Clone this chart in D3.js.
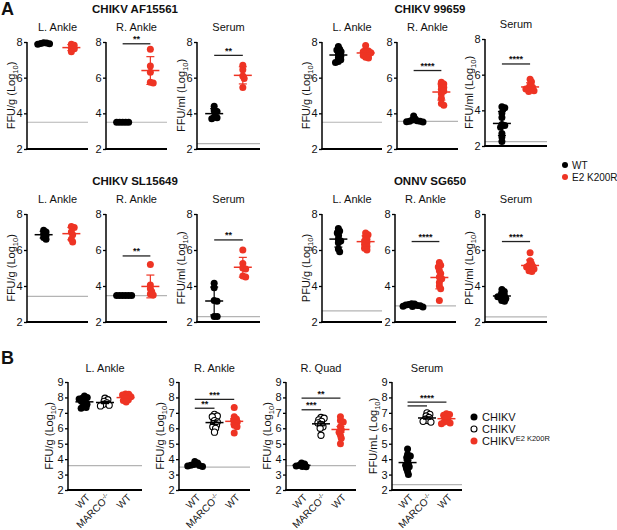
<!DOCTYPE html>
<html><head><meta charset="utf-8">
<script src="https://cdn.jsdelivr.net/npm/d3@7"></script>
<style>body{margin:0;background:#fff}svg{display:block}text{font-family:"Liberation Sans",Arial,Helvetica,sans-serif;fill:#111}</style>
</head><body><svg id="c" width="617" height="530"></svg>
<script>
// ---------------- DATA ----------------
const groupsA = ["WT", "E2 K200R"];
const groupsB = ["WT", "MARCO", "WT-K200R"];
const xTickLabelsB = ["WT", "MARCO", "WT"];
const ticksA = [2, 4, 6, 8];
const ticksB = [2, 3, 4, 5, 6, 7, 8, 9];
const legendA = ["WT", "E2 K200R"];
const legendB = ["CHIKV", "CHIKV", "CHIKV"];

// CHIKV AF15561
const af_LAnkle_WT = [7.96, 7.94, 7.92, 7.9, 7.88];
const af_LAnkle_K200R = [7.88, 7.82, 7.65, 7.62, 7.46];
const af_RAnkle_WT = [3.5, 3.5, 3.5, 3.5, 3.5];
const af_RAnkle_K200R = [7.6, 6.65, 6.3, 5.75, 5.7];
const af_Serum_WT = [4.4, 4.15, 4.1, 3.8, 3.75, 3.7];
const af_Serum_K200R = [6.7, 6.45, 6.1, 5.95, 5.45];
// CHIKV 99659
const c99_LAnkle_WT = [7.75, 7.6, 7.55, 7.45, 7.3, 7.2, 7.1, 7.0, 6.9, 6.85];
const c99_LAnkle_K200R = [7.8, 7.55, 7.5, 7.45, 7.4, 7.35, 7.3, 7.25, 7.15, 7.1];
const c99_RAnkle_WT = [3.85, 3.7, 3.62, 3.58, 3.56, 3.55, 3.53, 3.52];
const c99_RAnkle_K200R = [5.75, 5.65, 5.55, 5.45, 5.35, 5.25, 5.1, 4.85, 4.55, 4.45];
const c99_Serum_WT = [4.2, 4.15, 3.85, 3.6, 3.2, 3.15, 3.05, 2.7, 2.5, 2.25];
const c99_Serum_K200R = [5.75, 5.6, 5.4, 5.3, 5.25, 5.2, 5.15, 5.1, 5.05];
// CHIKV SL15649
const sl_LAnkle_WT = [7.1, 7.0, 6.9, 6.8, 6.7, 6.6];
const sl_LAnkle_K200R = [7.3, 7.25, 7.0, 6.85, 6.6, 6.45];
const sl_RAnkle_WT = [3.47, 3.47, 3.47, 3.47, 3.47, 3.47];
const sl_RAnkle_K200R = [5.2, 4.05, 3.85, 3.7, 3.55, 3.5];
const sl_Serum_WT = [4.15, 3.9, 3.2, 3.15, 2.3, 2.3];
const sl_Serum_K200R = [6.0, 5.25, 5.0, 4.95, 4.55, 4.5];
// ONNV SG650
const on_LAnkle_WT = [7.2, 7.05, 6.95, 6.8, 6.6, 6.5, 6.4, 6.05, 5.9];
const on_LAnkle_K200R = [6.95, 6.85, 6.75, 6.6, 6.5, 6.4, 6.3, 6.2, 6.1, 6.0];
const on_RAnkle_WT = [3.02, 3.0, 2.97, 2.95, 2.92, 2.9, 2.88, 2.86, 2.83];
const on_RAnkle_K200R = [5.3, 5.15, 5.05, 4.85, 4.7, 4.5, 4.4, 4.2, 4.0, 3.85, 3.2];
const on_Serum_WT = [3.8, 3.7, 3.6, 3.5, 3.45, 3.4, 3.35, 3.3, 3.2, 3.15];
const on_Serum_K200R = [5.85, 5.4, 5.25, 5.15, 5.1, 5.05, 5.0, 4.95, 4.85, 4.8];
// Panel B
const b_LAnkle_WT = [8.1, 8.0, 7.95, 7.9, 7.85, 7.75, 7.65, 7.55, 7.45, 7.35, 7.3];
const b_LAnkle_MARCO = [7.95, 7.85, 7.75, 7.65, 7.55, 7.5, 7.45];
const b_LAnkle_K200R = [8.22, 8.2, 8.15, 8.05, 7.95, 7.85, 7.8, 7.7];
const b_RAnkle_WT = [3.85, 3.75, 3.65, 3.6, 3.58, 3.55, 3.53];
const b_RAnkle_MARCO = [6.9, 6.8, 6.75, 6.5, 6.4, 6.3, 6.2, 6.1, 6.0, 5.75];
const b_RAnkle_K200R = [7.35, 6.75, 6.6, 6.5, 6.4, 6.2, 6.1, 5.7];
const b_RQuad_WT = [3.75, 3.68, 3.6, 3.55, 3.52, 3.5];
const b_RQuad_MARCO = [6.7, 6.65, 6.55, 6.45, 6.35, 6.25, 6.1, 6.0, 5.55];
const b_RQuad_K200R = [6.75, 6.5, 6.4, 6.1, 5.9, 5.75, 5.55, 5.35, 5.0];
const b_Serum_WT = [4.65, 4.3, 4.2, 4.1, 3.9, 3.7, 3.6, 3.5, 3.4, 3.2, 3.0];
const b_Serum_MARCO = [7.0, 6.9, 6.8, 6.7, 6.6, 6.5, 6.45, 6.4];
const b_Serum_K200R = [6.95, 6.9, 6.85, 6.75, 6.6, 6.5, 6.4, 6.35, 6.3];

// limits of detection
const lodAF = [3.5, 3.5, 2.3];
const lod99 = [3.5, 3.55, 2.25];
const lodSL = [3.42, 3.47, 2.3];
const lodON = [2.62, 2.9, 2.28];
const lodB = [3.58, 3.48, 3.58, 2.35];

// significance brackets: [fromGroup, toGroup, level, label]
const sigAF = [[], [[0, 1, 7.9, "**"]], [[0, 1, 7.25, "**"]]];
const sig99 = [[], [[0, 1, 6.4, "****"]], [[0, 1, 6.6, "****"]]];
const sigSL = [[], [[0, 1, 5.67, "**"]], [[0, 1, 6.56, "**"]]];
const sigON = [[], [[0, 1, 6.47, "****"]], [[0, 1, 6.47, "****"]]];
const sigB = [[], [[0, 1, 7.3, "**"], [0, 2, 7.88, "***"]], [[0, 1, 7.2, "***"], [0, 2, 7.95, "**"]], [[0, 1, 7.45, ""], [0, 2, 7.7, "****"]]];

// ---------------- LAYOUT / STYLE ----------------
const RED = "#ee3424";
const svg = d3.select("#c");

function swarm(values, cx, y, minD) {
  const pts = values.map(v => ({ v, y: y(v) })).sort((a, b) => a.y - b.y);
  const placed = [];
  for (const p of pts) {
    const c = [0];
    for (const q of placed) {
      const dy = p.y - q.y;
      if (Math.abs(dy) < minD) { const dx = Math.sqrt(minD * minD - dy * dy); c.push(q.dx + dx, q.dx - dx); }
    }
    c.sort((a, b) => Math.abs(a) - Math.abs(b));
    for (const d of c) {
      if (placed.every(q => (d - q.dx) ** 2 + (p.y - q.y) ** 2 >= minD * minD - 1e-6)) { p.dx = d; break; }
    }
    placed.push(p);
  }
  return placed.map(p => ({ v: p.v, x: cx + p.dx, y: p.y }));
}

function ylabel(g, x, y, pre) {
  const t = g.append("text").attr("transform", `translate(${x},${y}) rotate(-90)`)
    .attr("text-anchor", "middle").style("font-size", "11px");
  t.append("tspan").text(pre + " (Log");
  t.append("tspan").text("10").style("font-size", "7.5px").attr("dy", "3");
  t.append("tspan").text(")").attr("dy", "-3");
}

function panel(cfg) {
  const g = svg.append("g");
  const [x0, x1] = cfg.x, [yb, yt] = cfg.y;
  const y = d3.scaleLinear().domain(cfg.dom).range([yb, yt]);
  const x = d3.scalePoint().domain(cfg.groups).range([x0, x1]).padding(cfg.pad);
  // LOD
  g.append("line").attr("x1", x0).attr("x2", x1).attr("y1", y(cfg.lod)).attr("y2", y(cfg.lod))
    .attr("stroke", "#b4b4b4").attr("stroke-width", 1.2);
  // points
  cfg.data.forEach((vals, i) => {
    const gr = cfg.groups[i];
    const style = cfg.styles[i];
    const pts = swarm(vals, x(gr), y, cfg.minD);
    g.selectAll(null).data(pts).enter().append("circle")
      .attr("cx", d => d.x).attr("cy", d => d.y).attr("r", style === "open" ? 3.1 : 3.5)
      .attr("fill", style === "red" ? RED : style === "open" ? "#fff" : "#000")
      .attr("stroke", style === "red" ? RED : "#000").attr("stroke-width", style === "open" ? 1.1 : 0);
  });
  // mean and error bars
  cfg.data.forEach((vals, i) => {
    const cx = x(cfg.groups[i]);
    const col = cfg.styles[i] === "red" ? RED : "#000";
    const m = d3.mean(vals);
    let e = d3.deviation(vals) || 0;
    if (cfg.sem) e = e / Math.sqrt(vals.length);
    const eg = g.append("g").attr("stroke", col).attr("fill", "none");
    eg.append("line").attr("x1", cx - 9).attr("x2", cx + 9).attr("y1", y(m)).attr("y2", y(m)).attr("stroke-width", 1.5);
    if (e > 0.02) {
      eg.append("line").attr("x1", cx).attr("x2", cx).attr("y1", y(m - e)).attr("y2", y(m + e)).attr("stroke-width", 1.2);
      [m - e, m + e].forEach(v => eg.append("line").attr("x1", cx - 4).attr("x2", cx + 4).attr("y1", y(v)).attr("y2", y(v)).attr("stroke-width", 1.2));
    }
  });
  // significance
  cfg.sig.forEach(([a, b, lv, lab]) => {
    const xa = x(cfg.groups[a]), xb = x(cfg.groups[b]);
    g.append("line").attr("x1", xa).attr("x2", xb).attr("y1", y(lv)).attr("y2", y(lv)).attr("stroke", "#222").attr("stroke-width", 1.3);
    if (lab) g.append("text").attr("x", (xa + xb) / 2).attr("y", y(lv) - 1.5).attr("text-anchor", "middle")
      .style("font-size", "9px").style("font-weight", "bold").text(lab);
  });
  // axes
  const ya = g.append("g").attr("transform", `translate(${x0},0)`)
    .call(d3.axisLeft(y).tickValues(cfg.ticks).tickSize(3).tickPadding(1.5).tickFormat(d3.format("d")));
  ya.attr("font-family", null).attr("font-size", null);
  ya.select(".domain").attr("stroke", "#000").attr("stroke-width", 1.5).attr("d", `M0,${yt}V${yb}`);
  ya.selectAll(".tick line").attr("stroke", "#000").attr("stroke-width", 1.3);
  ya.selectAll(".tick text").style("font-size", "11px").attr("fill", "#111");
  g.append("line").attr("x1", x0 - 0.75).attr("x2", x1).attr("y1", yb).attr("y2", yb).attr("stroke", "#000").attr("stroke-width", 2);
  if (cfg.xlabels) {
    cfg.groups.forEach((gr, i) => {
      const t = g.append("text").attr("transform", `translate(${x(gr) + 3},${yb + 5}) rotate(-45)`)
        .attr("text-anchor", "end").attr("dy", "0.45em").style("font-size", "10px");
      t.append("tspan").text(cfg.xlabels[i]);
      if (cfg.xlabels[i] === "MARCO") t.append("tspan").text("-/-").style("font-size", "6.5px").attr("dy", "-4");
    });
  }
  // title
  g.append("text").attr("x", (x0 + x1) / 2).attr("y", cfg.ty).attr("text-anchor", "middle").style("font-size", "11px").text(cfg.title);
  if (cfg.ylab) ylabel(g, x0 - cfg.ylOff, (yb + yt) / 2, cfg.ylab);
}

const stylesA = ["black", "red"];
const stylesB = ["black", "open", "red"];
const rowsA = [
  { y: [149, 42], ty: 31, xs: [[27, 88], [106, 167], [197, 260]], names: ["L. Ankle", "R. Ankle", "Serum"],
    data: [[af_LAnkle_WT, af_LAnkle_K200R], [af_RAnkle_WT, af_RAnkle_K200R], [af_Serum_WT, af_Serum_K200R]],
    lod: lodAF, sig: sigAF, ylabs: ["FFU/g", null, "FFU/ml"] },
  { y: [149, 42], ty: 31, xs: [[322, 382], [397, 458], [485, 547]], names: ["L. Ankle", "R. Ankle", "Serum"],
    data: [[c99_LAnkle_WT, c99_LAnkle_K200R], [c99_RAnkle_WT, c99_RAnkle_K200R], [c99_Serum_WT, c99_Serum_K200R]],
    lod: lod99, sig: sig99, ylabs: ["FFU/g", null, "FFU/ml"], serumShift: 3 },
  { y: [322, 214], ty: 203, xs: [[27, 88], [106, 167], [197, 260]], names: ["L. Ankle", "R. Ankle", "Serum"],
    data: [[sl_LAnkle_WT, sl_LAnkle_K200R], [sl_RAnkle_WT, sl_RAnkle_K200R], [sl_Serum_WT, sl_Serum_K200R]],
    lod: lodSL, sig: sigSL, ylabs: ["FFU/g", null, "FFU/ml"] },
  { y: [322, 214], ty: 203, xs: [[322, 382], [395, 456], [485, 547]], names: ["L. Ankle", "R. Ankle", "Serum"],
    data: [[on_LAnkle_WT, on_LAnkle_K200R], [on_RAnkle_WT, on_RAnkle_K200R], [on_Serum_WT, on_Serum_K200R]],
    lod: lodON, sig: sigON, ylabs: ["PFU/g", null, "PFU/ml"] }
];
rowsA.forEach(r => {
  r.xs.forEach((xx, i) => {
    const sh = (r.serumShift && i === 2) ? r.serumShift : 0;
    panel({ x: xx, y: [r.y[0] - sh, r.y[1] - sh], dom: [2, 8], ticks: ticksA, groups: groupsA, pad: 0.6,
      data: r.data[i], styles: stylesA, lod: r.lod[i], sig: r.sig[i], title: r.names[i], ty: r.ty - sh,
      ylab: r.ylabs[i], ylOff: 12, minD: 3.0, sem: false });
  });
});

const bxs = [[68, 142], [179, 250], [286, 356], [392, 462]];
const bNames = ["L. Ankle", "R. Ankle", "R. Quad", "Serum"];
const bData = [[b_LAnkle_WT, b_LAnkle_MARCO, b_LAnkle_K200R], [b_RAnkle_WT, b_RAnkle_MARCO, b_RAnkle_K200R],
  [b_RQuad_WT, b_RQuad_MARCO, b_RQuad_K200R], [b_Serum_WT, b_Serum_MARCO, b_Serum_K200R]];
const bYlabs = ["FFU/g", "FFU/g", "FFU/g", "FFU/mL"];
bxs.forEach((xx, i) => {
  panel({ x: xx, y: [490, 382], dom: [2, 9], ticks: ticksB, groups: groupsB, pad: 0.8,
    data: bData[i], styles: stylesB, lod: lodB[i], sig: sigB[i], title: bNames[i], ty: 372,
    ylab: bYlabs[i], ylOff: 15, minD: 3.2, sem: true, xlabels: xTickLabelsB });
});

// headings
svg.append("text").attr("x", 1).attr("y", 15).style("font-size", "18px").style("font-weight", "bold").text("A");
svg.append("text").attr("x", 1).attr("y", 364).style("font-size", "18px").style("font-weight", "bold").text("B");
[["CHIKV AF15561", 135, 13], ["CHIKV 99659", 430, 13], ["CHIKV SL15649", 135, 185], ["ONNV SG650", 430, 185]]
  .forEach(([t, x, y]) => svg.append("text").attr("x", x).attr("y", y).attr("text-anchor", "middle")
    .style("font-size", "11.5px").style("font-weight", "bold").text(t));

// legend A
legendA.forEach((t, i) => {
  const yy = 165 + i * 12;
  svg.append("circle").attr("cx", 565).attr("cy", yy).attr("r", 3).attr("fill", i ? RED : "#000");
  svg.append("text").attr("x", 572).attr("y", yy + 3.5).style("font-size", "10px").text(t);
});
// legend B
legendB.forEach((t, i) => {
  const yy = 417 + i * 12;
  svg.append("circle").attr("cx", 474).attr("cy", yy).attr("r", i === 1 ? 3 : 3.5)
    .attr("fill", i === 0 ? "#000" : i === 1 ? "#fff" : RED).attr("stroke", i === 1 ? "#000" : "none").attr("stroke-width", 1.1);
  const tx = svg.append("text").attr("x", 482).attr("y", yy + 4).style("font-size", "11px");
  tx.append("tspan").text(t);
  if (i === 2) tx.append("tspan").text("E2 K200R").style("font-size", "7.5px").attr("dy", "-4.5");
});
</script></body></html>
